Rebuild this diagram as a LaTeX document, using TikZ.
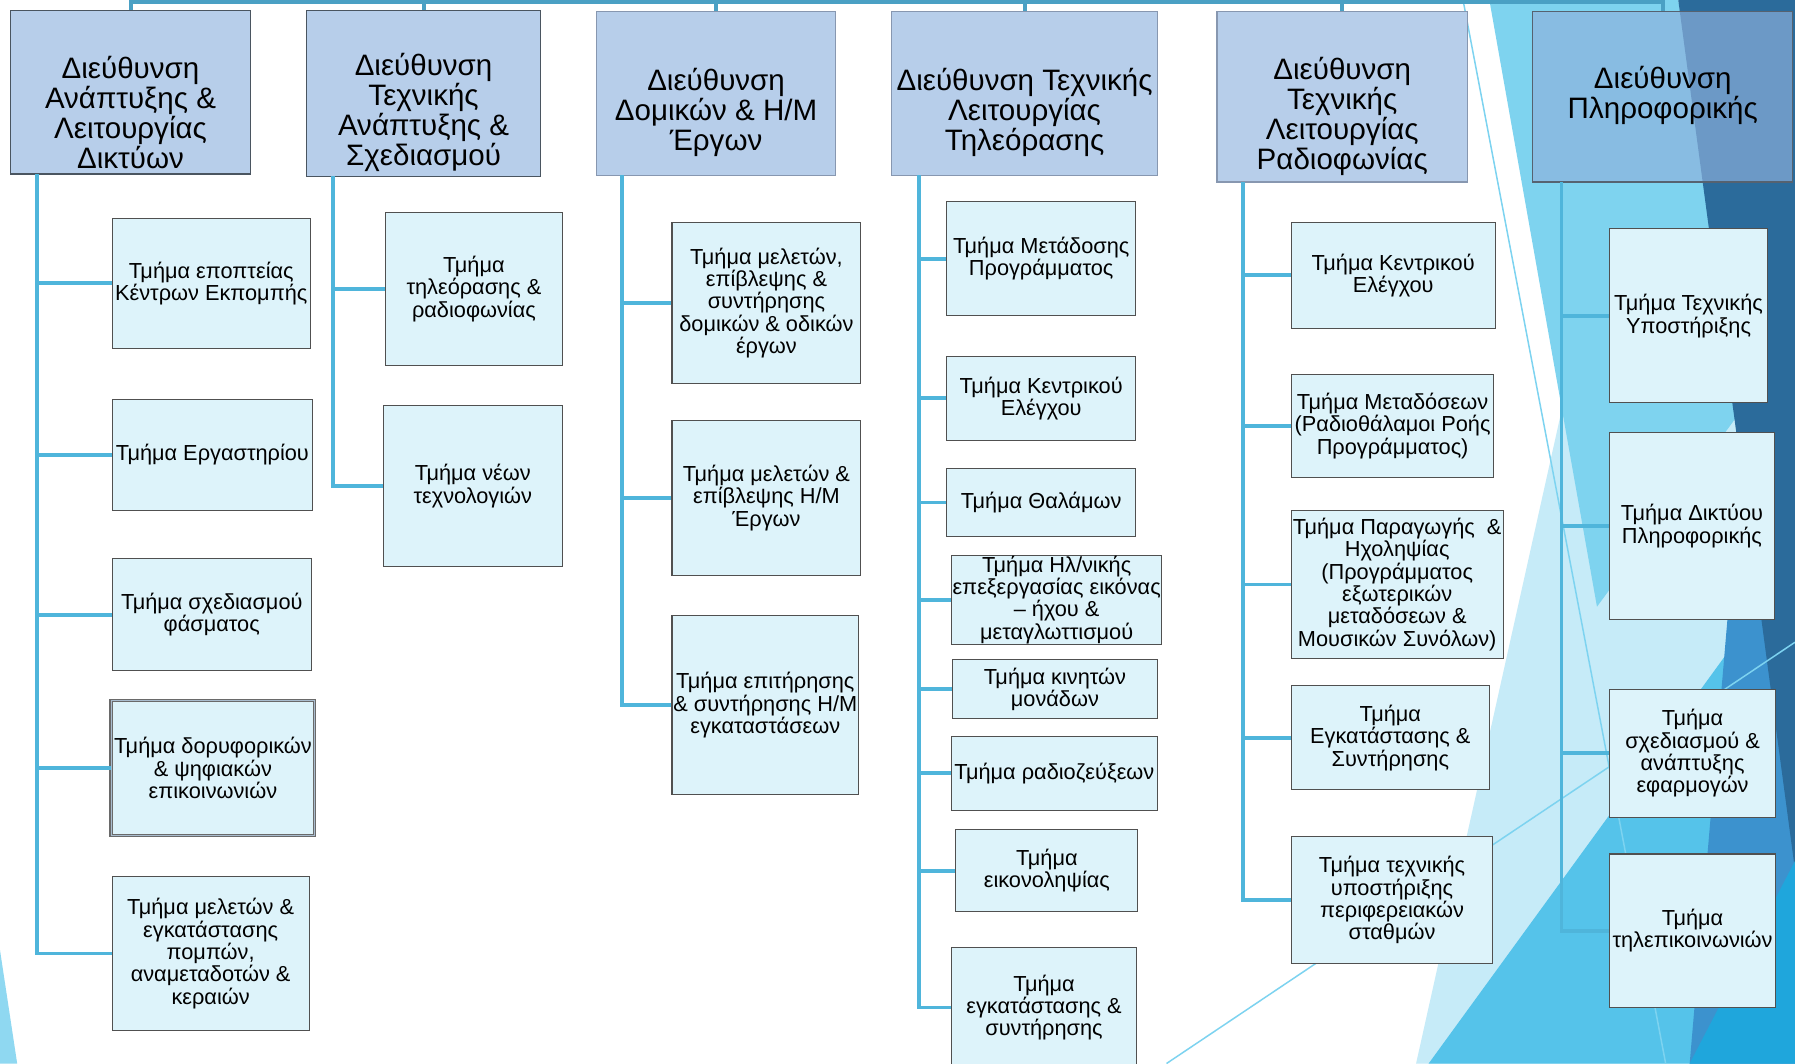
\documentclass[tikz,border=0pt]{standalone}
\usepackage{fontspec}
\setmainfont{Liberation Sans}
\definecolor{connblue}{HTML}{4FB5DB}
\definecolor{busblue}{HTML}{4AA0C4}
\definecolor{hfill}{HTML}{B7CEEA}
\definecolor{hfilldark}{HTML}{8DB1DC}
\definecolor{hborder}{HTML}{8797B0}
\definecolor{hborderdark}{HTML}{4A5560}
\definecolor{cfill}{HTML}{DDF3FA}
\definecolor{cborder}{HTML}{505050}
\definecolor{bgpale}{HTML}{C6EBF8}
\definecolor{bgcyan}{HTML}{7ED3EF}
\definecolor{bgmid}{HTML}{55C3EA}
\definecolor{bgmed}{HTML}{3C92CE}
\definecolor{bgdark}{HTML}{2B6B9B}
\definecolor{bgbright}{HTML}{1FA6DC}
\definecolor{bgline}{HTML}{7DD3F0}
\definecolor{bgleft}{HTML}{8FD8F1}
\begin{document}
\begin{tikzpicture}[x=1pt,y=-1pt,
  sz/.style 2 args={minimum width=#1pt, minimum height=#2pt},
  hbox/.style={draw=hborder, fill=hfill, line width=1.1pt, inner sep=0pt},
  htext/.style={font=\fontsize{25.8}{26.3}\selectfont, align=center, inner sep=0pt},
  cbox/.style={draw=cborder, fill=cfill, line width=0.9pt, align=center, inner sep=0pt,
    font=\fontsize{19}{19.5}\selectfont},
  connector/.style={draw=connblue, line width=3.3pt},
  busline/.style={draw=busblue, line width=3.5pt},
  thinline/.style={draw=bgline, line width=1.3pt}]
\useasboundingbox (0,0) rectangle (1568,929);
\clip (0,0) rectangle (1568,929);
\fill[white] (0,0) rectangle (1568,929);
% background facets
\fill[bgleft] (0,830) -- (15,929) -- (0,929) -- cycle;
\fill[bgpale] (1237,929) -- (1444,0) -- (1568,0) -- (1568,929) -- cycle;
\fill[bgcyan] (1301,0) -- (1466,0) -- (1520,360) -- (1395,530) -- cycle;
\fill[bgmid] (1248,929) -- (1568,489) -- (1568,929) -- cycle;
\fill[bgmed] (1515,470) -- (1568,420) -- (1568,929) -- (1476,929) -- cycle;
\fill[bgdark] (1466,0) -- (1568,0) -- (1568,760) -- cycle;
\fill[bgbright] (1476,929) -- (1568,752) -- (1568,929) -- cycle;
\coordinate (tl1a) at (1278,0);
\coordinate (tl1b) at (1455,929);
\coordinate (tl2a) at (1019,929);
\coordinate (tl2b) at (1568,561);
\draw[thinline] (tl1a) -- (tl1b);
\draw[thinline] (tl2a) -- (tl2b);

% header boxes
\node[hbox, draw=hborderdark, sz={210}{143}] (h1) at (114,80.5) {};
\node[hbox, draw=hborderdark, sz={204}{145}] (h2) at (370,81.5) {};
\node[hbox, sz={209}{143}] (h3) at (625.5,81.5) {};
\node[hbox, sz={232}{143}] (h4) at (895,81.5) {};
\node[hbox, sz={219}{149}] (h5) at (1172.5,84.5) {};
\node[hbox, draw=hborderdark!80!hborder, fill=hfilldark, fill opacity=0.67, sz={227}{149}] (h6) at (1452.5,84.5) {};
\node[htext] (h1t) at (114,98) {Διεύθυνση\\Ανάπτυξης \&\\Λειτουργίας\\Δικτύων};
\node[htext] (h2t) at (370,98.5) {Διεύθυνση\\Τεχνικής\\Ανάπτυξης \&\\Σχεδιασμού};
\node[htext] (h3t) at (625.5,98.5) {Διεύθυνση\\Δομικών \& Η/Μ\\Έργων};
\node[htext] (h4t) at (895,98.5) {Διεύθυνση Τεχνικής\\Λειτουργίας\\Τηλεόρασης};
\node[htext] (h5t) at (1172.5,101.5) {Διεύθυνση\\Τεχνικής\\Λειτουργίας\\Ραδιοφωνίας};
\node[htext] (h6t) at (1452.5,83.5) {Διεύθυνση\\Πληροφορικής};

% top bus
\coordinate (bus) at (0,2);
\draw[busline] (h1.north) -- (h1.north |- bus) -- (h6.north |- bus) -- (h6.north);
\draw[busline] (h2.north) -- (h2.north |- bus);
\draw[busline] (h3.north) -- (h3.north |- bus);
\draw[busline] (h4.north) -- (h4.north |- bus);
\draw[busline] (h5.north) -- (h5.north |- bus);

% column spines
\coordinate (v1) at (32,152);
\coordinate (v2) at (291,154);
\coordinate (v3) at (543,153);
\coordinate (v4) at (803,153);
\coordinate (v5) at (1086,159);
\coordinate (v6) at (1364,159);

% children column 1
\node[cbox, sz={173}{113}] (c1a) at (184.5,247.5) {Τμήμα εποπτείας\\Κέντρων Εκπομπής};
\node[cbox, sz={175}{97}] (c1b) at (185.5,397.5) {Τμήμα Εργαστηρίου};
\node[cbox, sz={174}{98}] (c1c) at (185,537) {Τμήμα σχεδιασμού\\φάσματος};
\node[cbox, sz={178}{118}, draw=cborder!85, line width=0.9pt, double=hborder!60!cfill, double distance=0.9pt] (c1d) at (186,671) {Τμήμα δορυφορικών\\\& ψηφιακών\\επικοινωνιών};
\node[cbox, sz={172}{134}] (c1e) at (184,833) {Τμήμα μελετών \&\\εγκατάστασης\\πομπών,\\αναμεταδοτών \&\\κεραιών};
% column 2
\node[cbox, sz={154}{133}] (c2a) at (414,252.5) {Τμήμα\\τηλεόρασης \&\\ραδιοφωνίας};
\node[cbox, sz={156}{141}] (c2b) at (413,424.5) {Τμήμα νέων\\τεχνολογιών};
% column 3
\node[cbox, sz={165}{141}] (c3a) at (669.5,264.5) {Τμήμα μελετών,\\επίβλεψης \&\\συντήρησης\\δομικών \& οδικών\\έργων};
\node[cbox, sz={165}{136}] (c3b) at (669.5,435) {Τμήμα μελετών \&\\επίβλεψης Η/Μ\\Έργων};
\node[cbox, sz={163}{156}] (c3c) at (668.5,616) {Τμήμα επιτήρησης\\\& συντήρησης Η/Μ\\εγκαταστάσεων};
% column 4
\node[cbox, sz={165}{100}] (c4a) at (909.5,226) {Τμήμα Μετάδοσης\\Προγράμματος};
\node[cbox, sz={165}{74}] (c4b) at (909.5,348) {Τμήμα Κεντρικού\\Ελέγχου};
\node[cbox, sz={165}{60}] (c4c) at (909.5,439) {Τμήμα Θαλάμων};
\node[cbox, sz={184}{78}] (c4d) at (923,524) {Τμήμα Ηλ/νικής\\επεξεργασίας εικόνας\\– ήχου \&\\μεταγλωττισμού};
\node[cbox, sz={179}{52}] (c4e) at (921.5,602) {Τμήμα κινητών\\μονάδων};
\node[cbox, sz={180}{65}] (c4f) at (921,675.5) {Τμήμα ραδιοζεύξεων};
\node[cbox, sz={159}{71}] (c4g) at (914.5,760.5) {Τμήμα\\εικονοληψίας};
\node[cbox, sz={162}{104}] (c4h) at (912,880) {Τμήμα\\εγκατάστασης \&\\συντήρησης};
% column 5
\node[cbox, sz={178}{93}] (c5a) at (1217,240.5) {Τμήμα Κεντρικού\\Ελέγχου};
\node[cbox, sz={177}{90}] (c5b) at (1216.5,372) {Τμήμα Μεταδόσεων\\(Ραδιοθάλαμοι Ροής\\Προγράμματος)};
\node[cbox, sz={185}{129}] (c5c) at (1220.5,510.5) {Τμήμα Παραγωγής\ \ \&\\Ηχοληψίας\\(Προγράμματος\\εξωτερικών\\μεταδόσεων \&\\Μουσικών Συνόλων)};
\node[cbox, sz={173}{91}] (c5d) at (1214.5,644.5) {Τμήμα\\Εγκατάστασης \&\\Συντήρησης};
\node[cbox, sz={176}{111}] (c5e) at (1216,786.5) {Τμήμα τεχνικής\\υποστήριξης\\περιφερειακών\\σταθμών};
% column 6
\node[cbox, sz={138}{152}] (c6a) at (1475,276) {Τμήμα Τεχνικής\\Υποστήριξης};
\node[cbox, sz={144}{163}] (c6b) at (1478,459.5) {Τμήμα Δικτύου\\Πληροφορικής};
\node[cbox, sz={145}{112}] (c6c) at (1478.5,658) {Τμήμα\\σχεδιασμού \&\\ανάπτυξης\\εφαρμογών};
\node[cbox, sz={145}{134}] (c6d) at (1478.5,813) {Τμήμα\\τηλεπικοινωνιών};

% connectors
\foreach \c in {c1a,c1b,c1c,c1d,c1e} \draw[connector] (v1) |- (\c.west);
\foreach \c in {c2a,c2b} \draw[connector] (v2) |- (\c.west);
\foreach \c in {c3a,c3b,c3c} \draw[connector] (v3) |- (\c.west);
\foreach \c in {c4a,c4b,c4c,c4d,c4e,c4f,c4g,c4h} \draw[connector] (v4) |- (\c.west);
\foreach \c in {c5a,c5b,c5c,c5d,c5e} \draw[connector] (v5) |- (\c.west);
\foreach \c in {c6a,c6b,c6c,c6d} \draw[connector] (v6) |- (\c.west);
\end{tikzpicture}
\end{document}
